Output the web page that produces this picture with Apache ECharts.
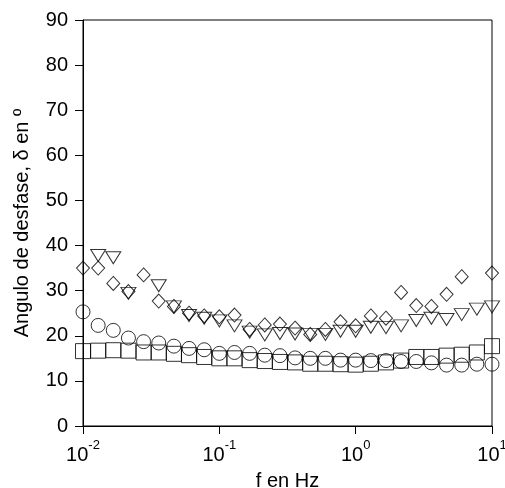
<!DOCTYPE html>
<html>
<head>
<meta charset="utf-8">
<script src="https://cdn.jsdelivr.net/npm/echarts@6/dist/echarts.min.js"></script>
<style>html,body{margin:0;padding:0;background:#fff}#c{width:505px;height:488px}</style>
</head>
<body>
<div id="c"></div>
<script>
var freqs = [0.01, 0.01292, 0.01668, 0.02154, 0.02783, 0.03594, 0.04642, 0.05995, 0.07743,
  0.1, 0.1292, 0.1668, 0.2154, 0.2783, 0.3594, 0.4642, 0.5995, 0.7743,
  1, 1.292, 1.668, 2.154, 2.783, 3.594, 4.642, 5.995, 7.743, 10];
var circles = [25.3, 22.3, 21.2, 19.5, 18.7, 18.4, 17.7, 17.2, 16.9, 16.1, 16.3, 16.1, 15.7, 15.6,
  15.1, 15.0, 15.0, 14.6, 14.6, 14.5, 14.5, 14.3, 14.3, 14.0, 13.5, 13.5, 13.7, 13.7];
var squares = [16.6, 16.7, 16.8, 16.7, 16.3, 16.3, 16.0, 15.7, 15.3, 15.0, 15.0, 14.6, 14.4, 14.2,
  14.1, 13.8, 13.8, 13.7, 13.6, 13.8, 14.1, 14.5, 15.3, 15.3, 15.6, 15.8, 16.3, 17.7];
var diamonds = [35.0, 35.0, 31.6, 29.8, 33.5, 27.7, 26.5, 25.0, 24.4, 24.2, 24.6, 21.4, 22.4, 22.6,
  21.7, 20.3, 21.4, 23.1, 22.2, 24.4, 23.9, 29.6, 26.7, 26.5, 29.2, 33.1, null, 33.9];
var triangles = [null, 37.8, 37.3, 29.4, null, 31.1, 26.4, 24.5, 23.9, 23.3, 22.2, 20.8, 20.2, 20.5,
  20.4, 20.3, 20.3, 21.0, 21.0, 21.9, 21.8, 22.2, 23.4, 23.9, 23.6, 24.7, 25.9, 26.4];
var yTicks = [0, 10, 20, 30, 40, 50, 60, 70, 80, 90];

function pairs(vals) {
  var out = [];
  for (var i = 0; i < freqs.length; i++) {
    if (vals[i] !== null) out.push([freqs[i], vals[i]]);
  }
  return out;
}
var FONT = 'Liberation Sans';
var mk = function (name, data, symbol, size, rot) {
  return {
    name: name, type: 'scatter', data: pairs(data), symbol: symbol, symbolSize: size,
    symbolRotate: rot || 0,
    itemStyle: { color: 'rgba(0,0,0,0)', borderColor: '#000', borderWidth: 1 },
    emphasis: { disabled: true }, animation: false
  };
};
var chart = echarts.init(document.getElementById('c'), null, { renderer: 'canvas' });
chart.setOption({
  animation: false,
  backgroundColor: '#fff',
  grid: { left: 83, right: 13, top: 20, bottom: 62, outerBoundsMode: 'none', containLabel: false,
    show: true, borderColor: '#000', borderWidth: 1, backgroundColor: 'transparent' },
  xAxis: {
    type: 'log', logBase: 10, min: 0.01, max: 10,
    name: 'f en Hz', nameLocation: 'middle', nameGap: 45,
    nameTextStyle: { fontFamily: FONT, fontSize: 20, color: '#000' },
    axisLine: { show: true, lineStyle: { color: '#000', width: 1 } },
    axisTick: { show: true, inside: false, length: 8, lineStyle: { color: '#000' } },
    minorTick: { show: false },
    splitLine: { show: false },
    axisLabel: {
      margin: 13, color: '#000',
      formatter: function (v) {
        var e = Math.round(Math.log(v) / Math.LN10);
        return '{b|10}{s|' + e + '}';
      },
      rich: {
        b: { fontFamily: FONT, fontSize: 20, color: '#000', verticalAlign: 'bottom', lineHeight: 26 },
        s: { fontFamily: FONT, fontSize: 13, color: '#000', verticalAlign: 'top', lineHeight: 26 }
      }
    }
  },
  yAxis: {
    type: 'value', min: 0, max: 90, interval: 10,
    name: 'Angulo de desfase, δ en º', nameLocation: 'middle', nameGap: 51, nameRotate: 90,
    nameTextStyle: { fontFamily: FONT, fontSize: 20, color: '#000' },
    axisLine: { show: true, lineStyle: { color: '#000', width: 1 } },
    axisTick: { show: true, inside: false, length: 8, lineStyle: { color: '#000' } },
    splitLine: { show: false },
    axisLabel: {
      margin: 15, color: '#000', fontFamily: FONT, fontSize: 20,
      formatter: function (v) { return yTicks.indexOf(v) >= 0 ? String(v) : ''; }
    }
  },
  series: [
    mk('squares', squares, 'rect', 15),
    mk('circles', circles, 'circle', 14),
    mk('diamonds', diamonds, 'diamond', [13, 14]),
    mk('triangles', triangles, 'triangle', [15, 12], 180)
  ]
});
</script>
</body>
</html>
